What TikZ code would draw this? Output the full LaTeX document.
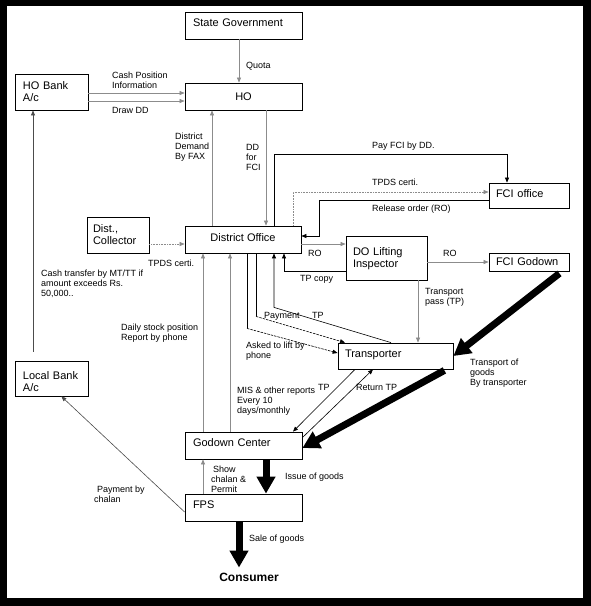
\documentclass[tikz,border=0pt]{standalone}
\usepackage{fontspec}
\setmainfont{Liberation Sans}
\usetikzlibrary{arrows.meta,calc}
\begin{document}
\begin{tikzpicture}[x=1pt,y=-1pt,
  box/.style={draw=black,line width=0.8pt,rectangle,inner sep=0pt,font=\fontsize{11}{12}\selectfont},
  boxl/.style={box,align=left},
  lbl/.style={anchor=west,inner sep=0pt,align=left,font=\fontsize{9}{10}\selectfont},
  arr/.style={-{Triangle[length=5pt,width=4pt]},line width=0.6pt},
  garr/.style={arr,draw=black!45},
  thick arrow/.style={line width=7pt,-{Triangle[length=17pt,width=18pt]}},
  dashy/.style={dash pattern=on 2.5pt off 1pt}
]
\useasboundingbox (0,0) rectangle (591,606);
\fill[black] (0,0) rectangle (591,606);
\fill[white] (7,6) rectangle (583,598);

% boxes
\node[boxl,minimum width=117,minimum height=27,text width=101,text depth=5pt] (sg) at (243.5,25.5) {State Government};
\node[box,minimum width=117,minimum height=27] (ho) at (243.5,96.5) {HO};
\node[boxl,minimum width=73,minimum height=36,text width=57] (hob) at (51.5,92) {HO Bank\\A/c};
\node[box,minimum width=116,minimum height=27,text depth=4pt] (do) at (243,239.5) {District Office};
\node[boxl,minimum width=62,minimum height=36,text width=50] (dc) at (118,235) {Dist.,\\Collector};
\node[boxl,minimum width=80,minimum height=25,text width=66,text depth=4pt] (fcio) at (529,195.5) {FCI office};
\node[boxl,minimum width=81,minimum height=44,text width=67,text depth=12pt] (doli) at (386.5,258) {DO Lifting\\Inspector};
\node[boxl,minimum width=80,minimum height=18,text width=66] (fcig) at (529,262) {FCI Godown};
\node[boxl,minimum width=115,minimum height=26,text width=101,text depth=5pt] (tr) at (395.5,356) {Transporter};
\node[boxl,minimum width=117,minimum height=27,text width=101,text depth=6pt] (gc) at (243.5,445.5) {Godown Center};
\node[boxl,minimum width=117,minimum height=27,text width=101,text depth=6pt] (fps) at (243.5,507.5) {FPS};
\node[boxl,minimum width=73,minimum height=35,text width=57,text depth=5pt] (lb) at (51.5,378.5) {Local Bank\\A/c};
\node[inner sep=5pt,font=\fontsize{12}{14}\selectfont\bfseries] (con) at (249,577) {Consumer};

% connectors
\draw[garr] ([xshift=-4.5]sg.south) -- ([xshift=-4.5]ho.north);
\draw[garr] ([yshift=-1]hob.east) -- ([yshift=-1]hob.east -| ho.west);
\draw[garr] ([yshift=-9]hob.east) -- ([yshift=-9]hob.east -| ho.west);
\draw[garr,densely dotted] ([yshift=-9]dc.east) -- ([yshift=-9]dc.east -| do.west);
\draw[garr] ([xshift=-31]do.north) -- ([xshift=-31]do.north |- ho.south);
\draw[garr] ([xshift=22.5]ho.south) -- ([xshift=22.5]ho.south |- do.north);
\draw[arr] ([xshift=31]do.north) -- ++(0,-71) -| ([xshift=-22]fcio.north);
\draw[garr,densely dotted] ([xshift=50]do.north) |- ([yshift=3.5]fcio.west);
\draw[arr] ([yshift=-4.5]fcio.west) -| ([xshift=18,yshift=3.5]do.east) -- ([yshift=3.5]do.east);
\draw[garr] ([yshift=-4.5]do.east) -- ([yshift=-4.5]do.east -| doli.west);
\draw[garr] ([yshift=-4]doli.east) -- (fcig.west);
\draw[arr] ([yshift=-13]doli.west) -| ([xshift=41]do.south);
\draw[garr] ([xshift=31.5]doli.south) -- ([xshift=31.5]doli.south |- tr.north);
\draw[thick arrow] ([xshift=-10,yshift=-2]fcig.south east) -- (tr.east);
\draw[thick arrow] ([xshift=-9,yshift=-1]tr.south east) -- ([yshift=-2.5]gc.east);
\draw[thick arrow] ([xshift=22.5]gc.south) -- ([xshift=22.5]gc.south |- fps.north);
\draw[thick arrow] ([xshift=-4.5]fps.south) -- ([xshift=-4.5]fps.south |- con.north);
\draw[garr] ([xshift=-40.5]fps.north) -- ([xshift=-40.5]fps.north |- gc.south);
\draw[arr,draw=black!70] ([yshift=-4.5]fps.west) -- ([xshift=-27]lb.south east);
\draw[arr,draw=black!70] ([xshift=-18.5,yshift=9]lb.north) -- ([xshift=-18.5]lb.north |- hob.south);
\draw[garr] ([xshift=-40.5]gc.north) -- ([xshift=-40.5]gc.north |- do.south);
\draw[garr] ([xshift=-13.5]gc.north) -- ([xshift=-13.5]gc.north |- do.south);
\draw[arr] ([xshift=-4.5]tr.north) -- ([xshift=31,yshift=-54]do.south) -- ([xshift=31]do.south);
\coordinate (payk) at ([xshift=13,yshift=-63]do.south);
\draw[line width=0.6pt] ([xshift=13]do.south) -- (payk);
\draw[arr,dashy] (payk) -- ([xshift=-50.5]tr.north);
\coordinate (askk) at ([xshift=4,yshift=-75]do.south);
\draw[line width=0.6pt] ([xshift=4]do.south) -- (askk);
\draw[arr,dashy] (askk) -- ([yshift=3]tr.west);
\draw[arr] ([xshift=-40.5]tr.south) -- ([xshift=49.5]gc.north);
\draw[arr] ([yshift=-6]gc.north east) -- ([xshift=-22.5]tr.south);

% labels
\begin{scope}[every node/.style={lbl}]
\node (l1) at (246,66) {Quota};
\node (l2) at (112,80) {Cash Position\\Information};
\node (l3) at (112,110) {Draw DD};
\node (l4) at (175,147) {District\\Demand\\By FAX};
\node (l5) at (246,157) {DD\\for\\FCI};
\node (l6) at (372,146) {Pay FCI by DD.};
\node (l7) at (372,182) {TPDS certi.};
\node (l8) at (372,209) {Release order (RO)};
\node (l9) at (148,263) {TPDS certi.};
\node (l10) at (308,253) {RO};
\node (l11) at (443,253) {RO};
\node (l12) at (300,279) {TP copy};
\node (l13) at (425,297.5) {Transport\\pass (TP)};
\node (l14) at (41,284) {Cash transfer by MT/TT if\\amount exceeds Rs.\\50,000..};
\node (l15) at (121,333) {Daily stock position\\Report by phone};
\node (l16) at (264,316) {Payment};
\node (l17) at (312,315) {TP};
\node (l18) at (246,351) {Asked to lift by\\phone};
\node (l19) at (470,373) {Transport of\\goods\\By transporter};
\node (l20) at (237,401) {MIS \& other reports\\Every 10\\days/monthly};
\node (l21) at (318,387) {TP};
\node (l22) at (356,387) {Return TP};
\node (l23) at (211,479) {\hspace*{2pt}Show\\chalan \&\\Permit};
\node (l24) at (285,477) {Issue of goods};
\node (l25) at (94,494) {\hspace*{3pt}Payment by\\chalan};
\node (l26) at (249,539) {Sale of goods};
\end{scope}
\end{tikzpicture}
\end{document}
